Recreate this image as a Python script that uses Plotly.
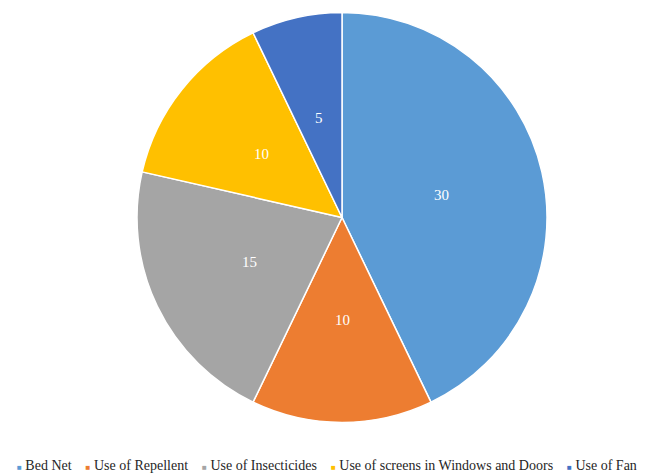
import math
import plotly.graph_objects as go

labels = ["Bed Net", "Use of Repellent", "Use of Insecticides",
          "Use of screens in Windows and Doors", "Use of Fan"]
values = [30, 10, 15, 10, 5]
colors = ["#5B9BD5", "#ED7D31", "#A5A5A5", "#FFC000", "#4472C4"]

W, H = 654, 473
dom_x = [0.2095, 0.8364]
dom_y = [0.1068, 0.9736]
SERIF = "'Liberation Serif', 'Times New Roman', Times, serif"

fig = go.Figure(go.Pie(
    labels=labels,
    values=values,
    sort=False,
    direction="clockwise",
    rotation=0,
    marker=dict(colors=colors, line=dict(color="white", width=1.5)),
    textinfo="none",
    domain=dict(x=dom_x, y=dom_y),
    hoverinfo="label+value",
    showlegend=False,
))

# data labels at half radius along each slice bisector (Excel-style centered labels)
cx = (dom_x[0] + dom_x[1]) / 2
cy = (dom_y[0] + dom_y[1]) / 2
R = min(W * (dom_x[1] - dom_x[0]), H * (dom_y[1] - dom_y[0])) / 2
total = sum(values)
cum = 0
for v in values:
    ang = math.radians((cum + v / 2) / total * 360)
    cum += v
    px = 0.5 * R * math.sin(ang)
    py = 0.5 * R * math.cos(ang)
    fig.add_annotation(
        x=cx + px / W, y=cy + py / H, xref="paper", yref="paper",
        text=str(v), showarrow=False,
        font=dict(family=SERIF, size=15, color="white"),
        xanchor="center", yanchor="middle",
    )

# legend line (Excel-style small square markers)
sq = '<span style="font-size:8px">&#9632;</span>'
parts = []
for lab, col in zip(labels, colors):
    parts.append(f'<span style="color:{col}">{sq}</span>&nbsp;{lab}')
legend_text = "&nbsp;&nbsp;&nbsp;&nbsp;".join(parts)
fig.add_annotation(
    x=0.5, y=(H - 465.5) / H, xref="paper", yref="paper",
    text=legend_text, showarrow=False,
    font=dict(family=SERIF, size=14, color="#262626"),
    xanchor="center", yanchor="middle",
)

fig.update_layout(
    width=W, height=H,
    margin=dict(l=0, r=0, t=0, b=0),
    paper_bgcolor="white",
    plot_bgcolor="white",
    font=dict(family=SERIF),
    showlegend=False,
)

fig.write_html("out.html")
